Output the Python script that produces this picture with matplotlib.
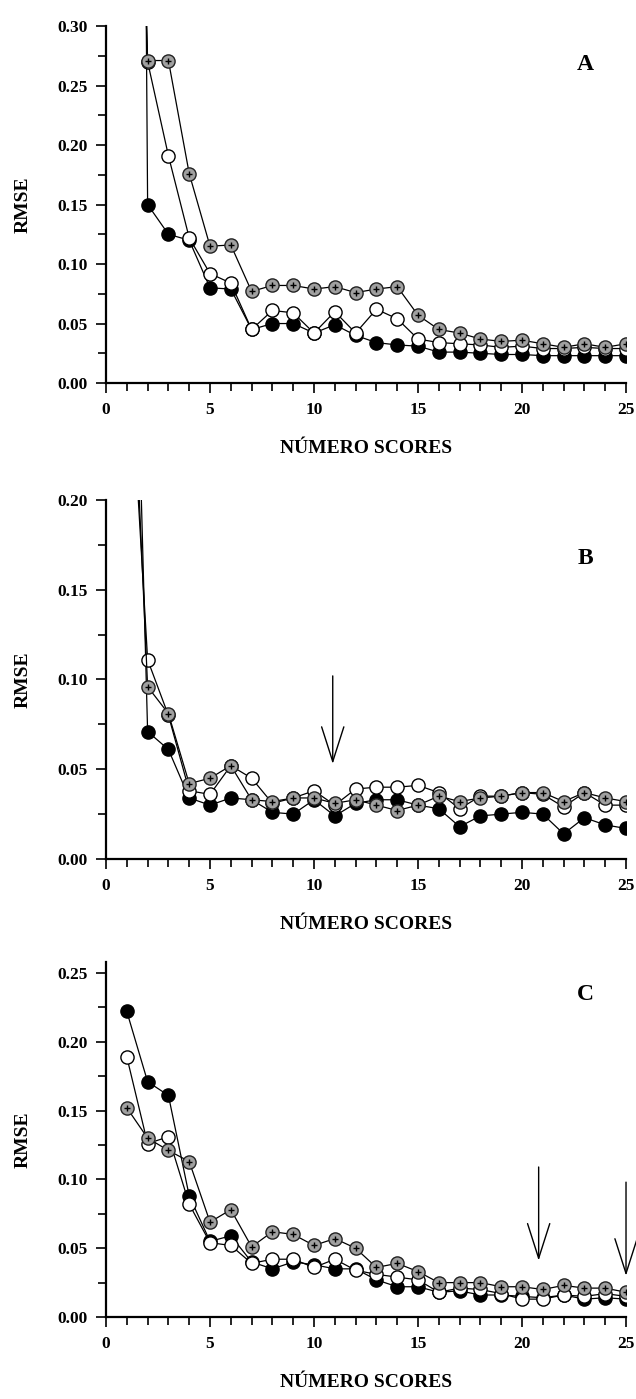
import matplotlib
matplotlib.use("Agg")
import matplotlib.pyplot as plt
import numpy as np
from matplotlib.ticker import MultipleLocator, FormatStrFormatter

plt.rcParams['font.family'] = ['Liberation Serif', 'DejaVu Serif']
plt.rcParams['font.weight'] = 'bold'

scores = np.arange(1, 26)

# panel A (value at 1 is off the top of the axis)
a_black = [2.5, 0.150, 0.125, 0.120, 0.080, 0.079, 0.045, 0.050, 0.050, 0.042,
           0.049, 0.040, 0.034, 0.032, 0.031, 0.026, 0.026, 0.025, 0.024, 0.024,
           0.023, 0.023, 0.023, 0.023, 0.023]
a_white = [1.0, 0.270, 0.191, 0.122, 0.092, 0.084, 0.045, 0.061, 0.059, 0.042,
           0.060, 0.042, 0.062, 0.054, 0.037, 0.034, 0.033, 0.032, 0.030, 0.031,
           0.029, 0.029, 0.030, 0.029, 0.029]
a_gray = [0.8, 0.271, 0.271, 0.176, 0.115, 0.116, 0.077, 0.082, 0.082, 0.079,
          0.081, 0.076, 0.079, 0.081, 0.057, 0.045, 0.042, 0.037, 0.035, 0.036,
          0.033, 0.030, 0.033, 0.030, 0.033]

# panel B
b_black = [0.50, 0.071, 0.061, 0.034, 0.030, 0.034, 0.033, 0.026, 0.025, 0.033,
           0.024, 0.031, 0.033, 0.033, 0.030, 0.028, 0.018, 0.024, 0.025, 0.026,
           0.025, 0.014, 0.023, 0.019, 0.017]
b_white = [0.31, 0.111, 0.080, 0.038, 0.036, 0.052, 0.045, 0.031, 0.034, 0.038,
           0.030, 0.039, 0.040, 0.040, 0.041, 0.037, 0.028, 0.035, 0.035, 0.037,
           0.036, 0.029, 0.037, 0.030, 0.030]
b_gray = [0.356, 0.096, 0.081, 0.042, 0.045, 0.052, 0.033, 0.032, 0.034, 0.034,
          0.031, 0.033, 0.030, 0.027, 0.030, 0.035, 0.032, 0.034, 0.035, 0.037,
          0.037, 0.032, 0.037, 0.034, 0.032]

# panel C
c_black = [0.222, 0.171, 0.161, 0.088, 0.055, 0.059, 0.040, 0.035, 0.040, 0.038,
           0.035, 0.035, 0.027, 0.022, 0.022, 0.018, 0.019, 0.016, 0.016, 0.015,
           0.014, 0.016, 0.013, 0.014, 0.013]
c_white = [0.189, 0.126, 0.131, 0.082, 0.054, 0.052, 0.039, 0.042, 0.042, 0.036,
           0.042, 0.034, 0.031, 0.029, 0.027, 0.018, 0.021, 0.020, 0.017, 0.013,
           0.013, 0.016, 0.015, 0.017, 0.015]
c_gray = [0.152, 0.130, 0.121, 0.113, 0.069, 0.078, 0.051, 0.062, 0.060, 0.052,
          0.057, 0.050, 0.036, 0.039, 0.033, 0.025, 0.025, 0.025, 0.022, 0.022,
          0.020, 0.023, 0.021, 0.021, 0.018]


def draw_series(ax, black, white, gray):
    ax.plot(scores, black, '-o', color='black', lw=0.9, ms=9.5,
            mfc='black', mec='black', mew=1, zorder=3)
    ax.plot(scores, white, '-o', color='black', lw=0.9, ms=9.5,
            mfc='white', mec='black', mew=1, zorder=4)
    ax.plot(scores, gray, '-o', color='black', lw=0.9, ms=9.5,
            mfc='#a0a0a0', mec='#222222', mew=1, zorder=5)
    ax.plot(scores, gray, '+', color='black', ms=4, mew=1, zorder=6)


def style_axes(ax, ytop, ymax, letter, letter_y):
    ax.set_xlim(0, 25)
    ax.set_ylim(0, ytop)
    for side in ['top', 'right']:
        ax.spines[side].set_visible(False)
    for side in ['left', 'bottom']:
        ax.spines[side].set_linewidth(1.6)
    ax.spines['left'].set_bounds(0, ytop)
    ax.xaxis.set_major_locator(MultipleLocator(5))
    ax.xaxis.set_minor_locator(MultipleLocator(1))
    ax.set_yticks(np.arange(0, ymax + 0.001, 0.05))
    ax.set_yticks(np.arange(0.025, ymax, 0.05), minor=True)
    ax.yaxis.set_major_formatter(FormatStrFormatter('%.2f'))
    ax.tick_params(which='major', direction='out', length=7.5, width=1.2,
                   labelsize=12.5, pad=6)
    ax.tick_params(which='minor', direction='out', length=5.5, width=1.2)
    ax.set_ylabel('RMSE', fontsize=14, fontweight='bold', labelpad=18)
    ax.set_xlabel('NÚMERO SCORES', fontsize=14, fontweight='bold', labelpad=16)
    ax.text(0.922, letter_y, letter, transform=ax.transAxes, fontsize=17,
            fontweight='bold', ha='center', va='center')


fig = plt.figure(figsize=(6.36, 13.99), dpi=100)

ax1 = fig.add_axes([0.1667, 0.7262, 0.8176, 0.2552])
draw_series(ax1, a_black, a_white, a_gray)
style_axes(ax1, 0.30, 0.30, 'A', 0.891)

ax2 = fig.add_axes([0.1667, 0.3860, 0.8176, 0.2566])
draw_series(ax2, b_black, b_white, b_gray)
style_axes(ax2, 0.20, 0.20, 'B', 0.836)

ax3 = fig.add_axes([0.1667, 0.0586, 0.8176, 0.2538])
draw_series(ax3, c_black, c_white, c_gray)
style_axes(ax3, 0.258, 0.25, 'C', 0.907)

arrow_props = dict(arrowstyle='->,head_length=1.0,head_width=0.32',
                   color='black', lw=1.0, mutation_scale=25,
                   shrinkA=0, shrinkB=0)
ax2.annotate('', xy=(10.9, 0.053), xytext=(10.9, 0.102), arrowprops=arrow_props)
ax3.annotate('', xy=(20.8, 0.041), xytext=(20.8, 0.109), arrowprops=arrow_props)
ax3.annotate('', xy=(25.0, 0.030), xytext=(25.0, 0.098), arrowprops=arrow_props,
             annotation_clip=False)

fig.savefig('out.png', dpi=100)
